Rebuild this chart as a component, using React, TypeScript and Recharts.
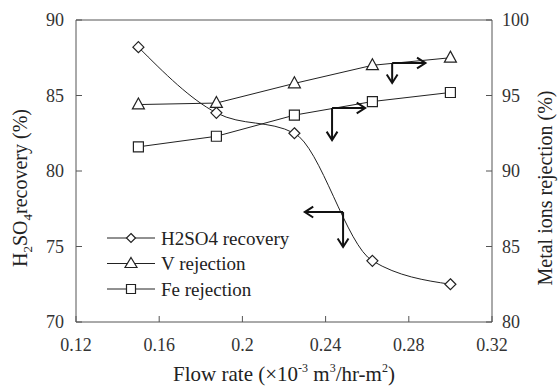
import React from 'react';
import { LineChart, Line, XAxis, YAxis, ReferenceLine } from 'recharts';

const flowRate = [0.15, 0.1875, 0.225, 0.2625, 0.3];
const h2so4Recovery = [88.2, 83.85, 82.5, 74.05, 72.5];
const vRejection = [94.4, 94.5, 95.8, 97.0, 97.5];
const feRejection = [91.6, 92.3, 93.7, 94.6, 95.2];
const xTicks = [0.12, 0.16, 0.2, 0.24, 0.28, 0.32];
const leftTicks = [70, 75, 80, 85, 90];
const rightTicks = [80, 85, 90, 95, 100];
const seriesNames = ['H2SO4 recovery', 'V rejection', 'Fe rejection'];

// annotation arrows (data coordinates): axis, start (corner) and tip
const arrowAxis = ['right', 'right', 'right', 'right', 'left', 'left'];
const arrowFrom = [
  [0.272, 97.15], [0.272, 97.15],
  [0.2431, 94.17], [0.2431, 94.17],
  [0.2484, 77.28], [0.2484, 77.28],
];
const arrowTo = [
  [0.288, 97.15], [0.272, 95.83],
  [0.259, 94.17], [0.2431, 92.05],
  [0.23, 77.28], [0.2484, 74.97],
];

const data = flowRate.map((x, i) => ({
  x,
  h: h2so4Recovery[i],
  v: vRejection[i],
  fe: feRejection[i],
}));

const FONT = '"Liberation Serif", "Times New Roman", serif';
const AX = '#555';
const LN = '#222';

const diamondPath = (cx: number, cy: number, r: number) =>
  `M${cx},${cy - r}L${cx + r},${cy}L${cx},${cy + r}L${cx - r},${cy}Z`;
const trianglePath = (cx: number, cy: number, w: number, h: number) =>
  `M${cx},${cy - h * 0.6}L${cx + w / 2},${cy + h * 0.4}L${cx - w / 2},${cy + h * 0.4}Z`;
const squarePath = (cx: number, cy: number, s: number) =>
  `M${cx - s / 2},${cy - s / 2}h${s}v${s}h${-s}Z`;

const DiamondDot = (p: any) =>
  p.cx == null ? null : (
    <path key={p.index} d={diamondPath(p.cx, p.cy, 5.5)} fill="#fff" stroke={LN} strokeWidth={1.2} />
  );
const TriangleDot = (p: any) =>
  p.cx == null ? null : (
    <path key={p.index} d={trianglePath(p.cx, p.cy, 12, 11)} fill="#fff" stroke={LN} strokeWidth={1.2} />
  );
const SquareDot = (p: any) =>
  p.cx == null ? null : (
    <path key={p.index} d={squarePath(p.cx, p.cy, 10)} fill="#fff" stroke={LN} strokeWidth={1.2} />
  );

const ArrowShape = (p: any) => {
  const { x1, y1, x2, y2 } = p;
  const ang = Math.atan2(y2 - y1, x2 - x1);
  const L = 10;
  const a = Math.PI / 5.5;
  const ax = x2 - L * Math.cos(ang - a);
  const ay = y2 - L * Math.sin(ang - a);
  const bx = x2 - L * Math.cos(ang + a);
  const by = y2 - L * Math.sin(ang + a);
  return (
    <g>
      <line x1={x1} y1={y1} x2={x2} y2={y2} stroke="#111" strokeWidth={2} />
      <polyline
        points={`${ax},${ay} ${x2},${y2} ${bx},${by}`}
        fill="none"
        stroke="#111"
        strokeWidth={2}
      />
    </g>
  );
};

const legendMarkers = [
  (cx: number, cy: number) => <path d={diamondPath(cx, cy, 4.5)} fill="#fff" stroke={LN} strokeWidth={1.2} />,
  (cx: number, cy: number) => <path d={trianglePath(cx, cy, 12, 10)} fill="#fff" stroke={LN} strokeWidth={1.2} />,
  (cx: number, cy: number) => <path d={squarePath(cx, cy, 9)} fill="#fff" stroke={LN} strokeWidth={1.2} />,
];

const LegendOverlay = () => (
  <svg
    width={220}
    height={80}
    style={{ position: 'absolute', left: 100, top: 225, display: 'block', pointerEvents: 'none' }}
  >
    {seriesNames.map((name, i) => {
      const cy = 13 + i * 25.5;
      return (
        <g key={name}>
          <line x1={7} y1={cy} x2={55} y2={cy} stroke={LN} strokeWidth={1} />
          {legendMarkers[i](31, cy)}
          <text x={61} y={cy} dy="0.35em" fontFamily={FONT} fontSize={19} fill="#222">
            {name}
          </text>
        </g>
      );
    })}
  </svg>
);

const tickStyle = { fontFamily: FONT, fontSize: 18, fill: '#333' };

export default function App() {
  return (
    <div style={{ position: 'absolute', left: 0, top: 0, width: 560, height: 388, background: '#fff' }}>
      <LineChart width={560} height={388} data={data} margin={{ top: 20, right: 0, bottom: 0, left: 0 }}>
        <XAxis
          dataKey="x"
          type="number"
          domain={[0.12, 0.32]}
          ticks={xTicks}
          tickFormatter={(v: number) => String(v)}
          height={66}
          tickSize={-6}
          tickMargin={22}
          stroke={AX}
          tick={tickStyle}
          tickLine={{ stroke: AX }}
          axisLine={{ stroke: AX }}
          label={{
            content: () => (
              <text x={284} y={381} textAnchor="middle" fontFamily={FONT} fontSize={21} fill="#222">
                Flow rate (×10
                <tspan fontSize={12} dy={-9}>-3</tspan>
                <tspan dy={9}> m</tspan>
                <tspan fontSize={12} dy={-9}>3</tspan>
                <tspan dy={9}>/hr-m</tspan>
                <tspan fontSize={12} dy={-9}>2</tspan>
                <tspan dy={9}>)</tspan>
              </text>
            ),
          }}
        />
        <YAxis
          yAxisId="left"
          orientation="left"
          domain={[70, 90]}
          ticks={leftTicks}
          width={76}
          tickSize={-6}
          tickMargin={18}
          tick={tickStyle}
          tickLine={{ stroke: AX }}
          axisLine={{ stroke: AX }}
          label={{
            content: () => (
              <text
                transform="translate(27,188) rotate(-90)"
                textAnchor="middle"
                fontFamily={FONT}
                fontSize={20}
                fill="#222"
              >
                H<tspan fontSize={13} dy={5}>2</tspan>
                <tspan dy={-5}>SO</tspan>
                <tspan fontSize={13} dy={5}>4</tspan>
                <tspan dy={-5}>recovery (%)</tspan>
              </text>
            ),
          }}
        />
        <YAxis
          yAxisId="right"
          orientation="right"
          domain={[80, 100]}
          ticks={rightTicks}
          width={68}
          tickSize={-6}
          tickMargin={16}
          tick={tickStyle}
          tickLine={{ stroke: AX }}
          axisLine={{ stroke: AX }}
          label={{
            content: () => (
              <text
                transform="translate(552,188) rotate(-90)"
                textAnchor="middle"
                fontFamily={FONT}
                fontSize={20}
                fill="#222"
              >
                Metal ions rejection (%)
              </text>
            ),
          }}
        />
        <ReferenceLine yAxisId="left" y={90} stroke={AX} strokeWidth={1} />
        <Line
          yAxisId="left"
          dataKey="h"
          name={seriesNames[0]}
          type="monotone"
          stroke={LN}
          strokeWidth={1}
          dot={DiamondDot}
          isAnimationActive={false}
        />
        <Line
          yAxisId="right"
          dataKey="v"
          name={seriesNames[1]}
          type="linear"
          stroke={LN}
          strokeWidth={1}
          dot={TriangleDot}
          isAnimationActive={false}
        />
        <Line
          yAxisId="right"
          dataKey="fe"
          name={seriesNames[2]}
          type="linear"
          stroke={LN}
          strokeWidth={1}
          dot={SquareDot}
          isAnimationActive={false}
        />
        {arrowFrom.map((f, i) => (
          <ReferenceLine
            key={i}
            yAxisId={arrowAxis[i]}
            segment={[
              { x: f[0], y: f[1] },
              { x: arrowTo[i][0], y: arrowTo[i][1] },
            ]}
            ifOverflow="visible"
            shape={ArrowShape}
          />
        ))}
      </LineChart>
      <LegendOverlay />
    </div>
  );
}
